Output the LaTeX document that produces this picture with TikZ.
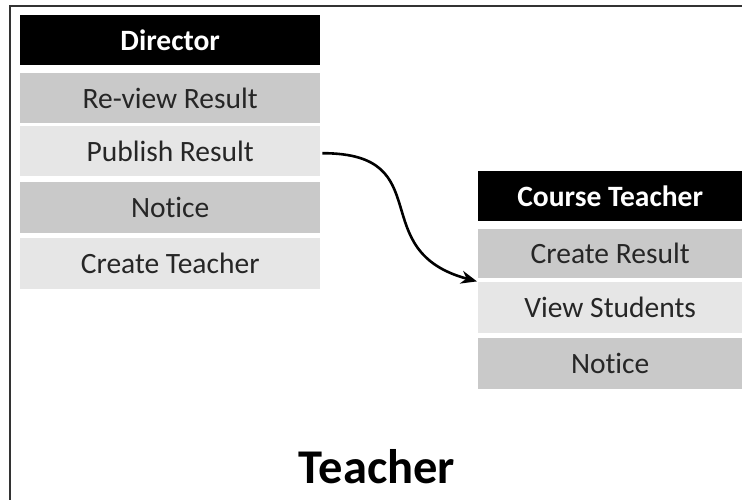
\documentclass[tikz,border=0pt]{standalone}
\usepackage{fontspec}
\setmainfont{Carlito}[Ligatures=NoCommon]
\usetikzlibrary{arrows.meta}
\definecolor{rowdark}{HTML}{C9C9C9}
\definecolor{rowlight}{HTML}{E6E6E6}
\definecolor{txt}{HTML}{262626}
\tikzset{
  hdr/.style={fill=black, text=white, font=\fontsize{29.5}{32}\selectfont\bfseries, anchor=north west, inner sep=0pt, minimum height=50pt},
  rowd/.style={fill=rowdark, text=txt, font=\fontsize{29.5}{32}\selectfont, anchor=north west, inner sep=0pt, minimum height=50pt},
  rowl/.style={fill=rowlight, text=txt, font=\fontsize{29.5}{32}\selectfont, anchor=north west, inner sep=0pt, minimum height=50pt},
  conn/.style={line width=2.6pt, -{Stealth[length=16pt,width=13pt]}},
  frameline/.style={line width=1.8pt, draw=black!80}
}
\begin{document}
\begin{tikzpicture}[x=1pt,y=-1pt]
\useasboundingbox (0,0) rectangle (742,500);
\coordinate (fa) at (10,500);
\coordinate (fb) at (10,6);
\coordinate (fc) at (742,6);
\draw[frameline] (fa) -- (fb) -- (fc);
% Director
\node[hdr, minimum width=300pt] (dir) at (20,15) {Director};
\node[rowd, minimum width=300pt, minimum height=50pt] (rv) at (20,73) {Re-view Result};
\node[rowl, minimum width=300pt, minimum height=50pt] (pub) at (20,126) {Publish Result};
\node[rowd, minimum width=300pt, minimum height=51pt] (dn) at (20,182) {Notice};
\node[rowl, minimum width=300pt, minimum height=51pt] (ct) at (20,238) {Create Teacher};
% Course Teacher
\node[hdr, minimum width=264pt] (cth) at (478,171) {Course Teacher};
\node[rowd, minimum width=264pt, minimum height=49pt] (cr) at (478,229) {Create Result};
\node[rowl, minimum width=264pt, minimum height=51pt] (vs) at (478,282) {View Students};
\node[rowd, minimum width=264pt, minimum height=51pt] (cn) at (478,338) {Notice};
% Title
\node[font=\fontsize{48.5}{52}\selectfont\bfseries, anchor=base, inner sep=0pt] (title) at (377,483) {Teacher};
% connector
\draw[conn] ([xshift=2pt,yshift=-2pt]pub.east) to[out=0,in=165,looseness=1.5] ([xshift=-1pt,yshift=-3pt]cr.south west);
\end{tikzpicture}
\end{document}
